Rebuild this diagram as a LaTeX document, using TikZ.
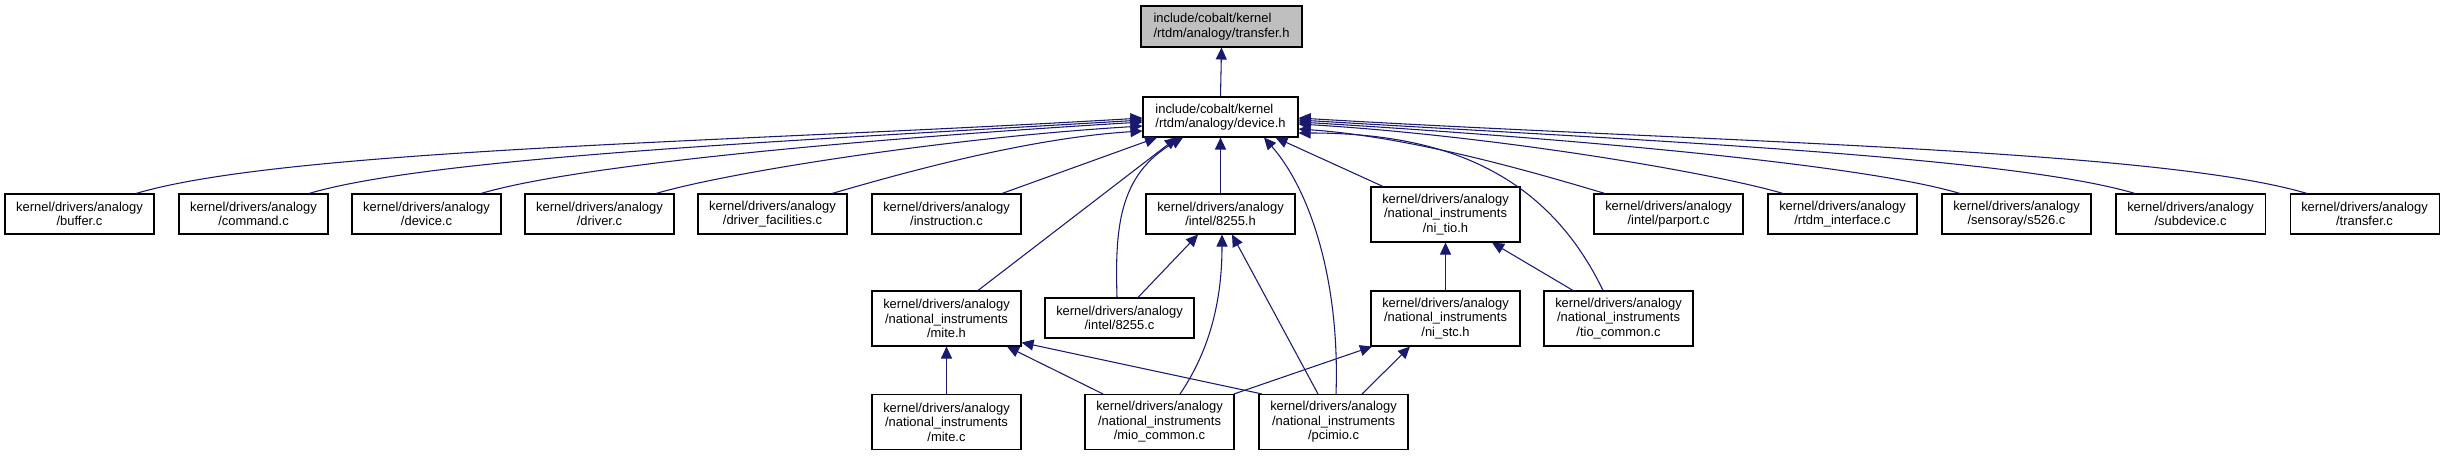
\documentclass[tikz,border=0pt]{standalone}
\usepackage{fontspec}
\setmainfont{Liberation Sans}
\usetikzlibrary{arrows.meta,calc}
\definecolor{edgeblue}{RGB}{25,25,112}
\definecolor{rootgray}{RGB}{191,191,191}
\begin{document}
\begin{tikzpicture}[x=0.75pt,y=-0.75pt,
  basebox/.style={draw=black, line width=0.8pt, rectangle, inner sep=0pt,
    font=\fontsize{9.7}{10.9}\selectfont},
  boxtwo/.style={basebox, align=center, minimum width=111.75pt, minimum height=30pt},
  boxthree/.style={basebox, align=center, minimum width=111.75pt, minimum height=41.25pt},
  rootbox/.style={basebox, align=left, minimum height=30pt},
  dep/.style={draw=edgeblue, line width=0.8pt, -{Triangle[length=9pt,width=8.25pt]}}
]
\useasboundingbox (0,0) rectangle (2443,456);

% top
\node[rootbox, fill=rootgray, minimum width=120.75pt, minimum height=30.75pt] (transferh) at (1221.5,26.5) {include/cobalt/kernel\\/rtdm/analogy/transfer.h};
\node[rootbox, minimum width=116.25pt] (deviceh) at (1220.5,117) {include/cobalt/kernel\\/rtdm/analogy/device.h};

% row 2
\node[boxtwo] (buffer) at (79.5,214) {kernel/drivers/analogy\\/buffer.c};
\node[boxtwo] (command) at (253.5,214) {kernel/drivers/analogy\\/command.c};
\node[boxtwo] (devicec) at (426.5,214) {kernel/drivers/analogy\\/device.c};
\node[boxtwo] (driverc) at (599.5,214) {kernel/drivers/analogy\\/driver.c};
\node[boxtwo] (drvfac) at (772.5,214) {kernel/drivers/analogy\\/driver\_facilities.c};
\node[boxtwo] (instr) at (946.5,214) {kernel/drivers/analogy\\/instruction.c};
\node[boxtwo] (ieh) at (1220.5,214) {kernel/drivers/analogy\\/intel/8255.h};
\node[boxthree] (nitioh) at (1445.5,214.5) {kernel/drivers/analogy\\/national\_instruments\\/ni\_tio.h};
\node[boxtwo] (parport) at (1668.5,214) {kernel/drivers/analogy\\/intel/parport.c};
\node[boxtwo] (rtdm) at (1842.5,214) {kernel/drivers/analogy\\/rtdm\_interface.c};
\node[boxtwo] (sfive) at (2016.5,214) {kernel/drivers/analogy\\/sensoray/s526.c};
\node[boxtwo] (subdev) at (2190.5,214) {kernel/drivers/analogy\\/subdevice.c};
\node[boxtwo] (transferc) at (2364.5,214) {kernel/drivers/analogy\\/transfer.c};

% row 3
\node[boxthree] (miteh) at (946.5,318.5) {kernel/drivers/analogy\\/national\_instruments\\/mite.h};
\node[boxtwo] (iec) at (1119.5,318) {kernel/drivers/analogy\\/intel/8255.c};
\node[boxthree] (nistch) at (1445.5,318.5) {kernel/drivers/analogy\\/national\_instruments\\/ni\_stc.h};
\node[boxthree] (tiocommon) at (1618.5,318.5) {kernel/drivers/analogy\\/national\_instruments\\/tio\_common.c};

% row 4
\node[boxthree] (mitec) at (946.5,422) {kernel/drivers/analogy\\/national\_instruments\\/mite.c};
\node[boxthree] (miocommon) at (1159.5,422) {kernel/drivers/analogy\\/national\_instruments\\/mio\_common.c};
\node[boxthree] (pcimio) at (1333.5,422) {kernel/drivers/analogy\\/national\_instruments\\/pcimio.c};

% edges
\draw[dep] (deviceh.north) -- (transferh.south);

\draw[dep] ($(buffer.north)+(56.5,0)$) .. controls (287,148.7) and (740,142) .. ($(deviceh.west)+(0,1)$);
\draw[dep] ($(command.north)+(55.5,0)$) .. controls (434,156.5) and (809,140) .. ($(deviceh.west)+(0,3)$);
\draw[dep] ($(devicec.north)+(54.5,0)$) .. controls (580,164) and (878,138) .. ($(deviceh.west)+(0,5)$);
\draw[dep] ($(driverc.north)+(56.5,0)$) .. controls (729,172) and (948,137.7) .. ($(deviceh.west)+(0,9)$);
\draw[dep] ($(drvfac.north)+(59.5,0)$) .. controls (879,180) and (1019,138.5) .. ($(deviceh.west)+(0,14)$);
\draw[dep] ($(instr.north)+(55.5,0)$) -- ($(deviceh.south)+(-63.5,0)$);

\draw[dep] ($(parport.north)+(-63.5,0)$) .. controls (1559,180) and (1421,137.4) .. ($(deviceh.east)+(0,12)$);
\draw[dep] ($(rtdm.north)+(-59.5,0)$) .. controls (1710,172) and (1492,135.6) .. ($(deviceh.east)+(0,7)$);
\draw[dep] ($(sfive.north)+(-56.5,0)$) .. controls (1861,164) and (1563,138) .. ($(deviceh.east)+(0,5)$);
\draw[dep] ($(subdev.north)+(-55.5,0)$) .. controls (2009,156) and (1633,140) .. ($(deviceh.east)+(0,3)$);
\draw[dep] ($(transferc.north)+(-57.5,0)$) .. controls (2156,148.6) and (1702,142) .. ($(deviceh.east)+(0,1)$);

\draw[dep] (ieh.north) -- (deviceh.south);
\draw[dep] ($(nitioh.north)+(-62.5,0)$) -- ($(deviceh.south)+(55,0)$);
\draw[dep] ($(miteh.north)+(31.5,0)$) -- ($(deviceh.south)+(-43.5,0)$);
\draw[dep] ($(iec.north)+(-2.5,0)$) .. controls (1115,230) and (1118,175) .. ($(deviceh.south)+(-37.5,0)$);
\draw[dep] ($(pcimio.north)+(2.5,0)$) .. controls (1340,280) and (1310,190) .. ($(deviceh.south)+(43.5,0)$);
\draw[dep] ($(tiocommon.north)+(-15.5,0)$) .. controls (1545,170) and (1440,133) .. ($(deviceh.east)+(0,16)$);

\draw[dep] ($(iec.north)+(18.5,0)$) -- ($(ieh.south)+(-22.5,0)$);
\draw[dep] ($(miocommon.north)+(20.5,0)$) .. controls (1210,350) and (1222,300) .. ($(ieh.south)+(1.5,0)$);
\draw[dep] ($(pcimio.north)+(-15.5,0)$) -- ($(ieh.south)+(11.5,0)$);

\draw[dep] (nistch.north) -- (nitioh.south);
\draw[dep] ($(tiocommon.north)+(-45.5,0)$) -- ($(nitioh.south)+(46.5,0)$);

\draw[dep] ($(pcimio.north)+(28.5,0)$) -- ($(nistch.south)+(-35.5,0)$);
\draw[dep] ($(miocommon.north)+(74.5,0)$) -- ($(nistch.south)+(-73.5,0)$);

\draw[dep] (mitec.north) -- (miteh.south);
\draw[dep] ($(miocommon.north)+(-56.5,0)$) -- ($(miteh.south)+(60.5,0)$);
\draw[dep] ($(pcimio.north)+(-71.5,0)$) -- ($(miteh.east)+(0,24)$);
\end{tikzpicture}
\end{document}
